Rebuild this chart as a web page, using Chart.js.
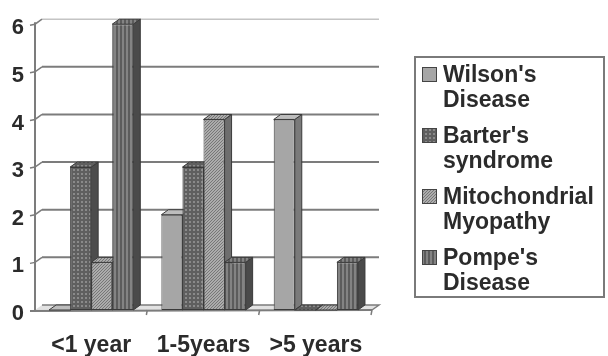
<!DOCTYPE html>
<html>
<head>
<meta charset="utf-8">
<script src="https://cdn.jsdelivr.net/npm/chart.js@4.4.1/dist/chart.umd.min.js"></script>
<style>
  html, body { margin: 0; padding: 0; background: #ffffff; }
  #wrap { width: 608px; height: 356px; }
</style>
</head>
<body>
<div id="wrap"><canvas id="c" width="608" height="356"></canvas></div>
<script>
// Age groups and number of patients per diagnosis
const categories = ['<1 year', '1-5years', '>5 years'];
const wilson = [0, 2, 4];
const barter = [3, 3, 0];
const mito = [1, 4, 0];
const pompe = [6, 1, 1];
const seriesNames = [
  ["Wilson's", 'Disease'],
  ["Barter's", 'syndrome'],
  ['Mitochondrial', 'Myopathy'],
  ["Pompe's", 'Disease']
];
const yMin = 0, yMax = 6, yStep = 1;

const FONT = "'Liberation Sans', Arial, Helvetica, sans-serif";
const TEXT = '#2b2b2b';
const DX = 7, DY = -5;   // depth offset for the pseudo-3D look

const canvas = document.getElementById('c');
const ctx = canvas.getContext('2d');

function makePattern(w, h, paint) {
  const t = document.createElement('canvas');
  t.width = w; t.height = h;
  paint(t.getContext('2d'));
  return ctx.createPattern(t, 'repeat');
}

// solid, dotted grid, diagonal hatch, vertical stripes
const fronts = [
  '#a6a6a6',
  makePattern(4, 4, g => {
    g.fillStyle = '#5f5f5f'; g.fillRect(0, 0, 4, 4);
    g.fillStyle = '#8a8a8a'; g.fillRect(1, 1, 2, 2);
  }),
  makePattern(3, 3, g => {
    g.fillStyle = '#acacac'; g.fillRect(0, 0, 3, 3);
    g.fillStyle = '#777777';
    g.fillRect(0, 2, 1, 1); g.fillRect(1, 1, 1, 1); g.fillRect(2, 0, 1, 1);
  }),
  makePattern(4, 1, g => {
    g.fillStyle = '#5c5c5c'; g.fillRect(0, 0, 2, 1);
    g.fillStyle = '#838383'; g.fillRect(2, 0, 2, 1);
  })
];
const sides = ['#7a7a7a', '#4c4c4c', '#6e6e6e', '#4a4a4a'];
const tops = ['#bdbdbd', fronts[1], fronts[2], fronts[3]];

// back wall, floor and the top/side faces of each bar
const depthPlugin = {
  id: 'depth',
  beforeDatasetsDraw(chart) {
    const c = chart.ctx;
    const { left, right, bottom } = chart.chartArea;
    const ys = chart.scales.y;
    c.save();

    // gridlines on the back wall with slanted ticks on the axis
    for (let v = yMin + yStep; v <= yMax; v += yStep) {
      const py = ys.getPixelForValue(v);
      c.strokeStyle = v === yMax ? '#c4c4c4' : '#7c7c7c';
      c.lineWidth = v === yMax ? 1.5 : 2;
      c.beginPath();
      c.moveTo(left + DX, py + DY);
      c.lineTo(right + DX, py + DY);
      c.stroke();
      c.strokeStyle = '#7c7c7c';
      c.lineWidth = 1.5;
      c.beginPath();
      c.moveTo(left - 5, py + 1);
      c.lineTo(left, py);
      c.lineTo(left + DX, py + DY);
      c.stroke();
    }

    // floor
    c.fillStyle = '#e2e2e2';
    c.beginPath();
    c.moveTo(left, bottom);
    c.lineTo(right, bottom);
    c.lineTo(right + DX, bottom + DY);
    c.lineTo(left + DX, bottom + DY);
    c.closePath();
    c.fill();
    c.strokeStyle = '#7c7c7c';
    c.lineWidth = 1.5;
    c.beginPath();
    c.moveTo(left + DX, bottom + DY);
    c.lineTo(right + DX, bottom + DY);
    c.lineTo(right, bottom);
    c.stroke();
    c.lineWidth = 2;
    c.beginPath();
    c.moveTo(left - 5, bottom + 1);
    c.lineTo(right, bottom);
    c.stroke();

    // category separators below the floor
    const n = categories.length;
    const step = (right - left) / n;
    c.lineWidth = 1.5;
    for (let i = 1; i <= n; i++) {
      const px = left + step * i;
      c.beginPath();
      c.moveTo(px, bottom);
      c.lineTo(px - 1, bottom + 5);
      c.stroke();
    }

    // y axis line
    c.lineWidth = 2;
    c.beginPath();
    c.moveTo(left, ys.getPixelForValue(yMax) - 2);
    c.lineTo(left, bottom + 2);
    c.stroke();

    // side and top faces
    c.strokeStyle = '#3a3a3a';
    c.lineWidth = 1;
    chart.data.datasets.forEach((ds, i) => {
      const meta = chart.getDatasetMeta(i);
      meta.data.forEach(bar => {
        const { x, y, base, width } = bar.getProps(['x', 'y', 'base', 'width'], true);
        const l = x - width / 2, r = x + width / 2;
        c.fillStyle = sides[i];
        c.beginPath();
        c.moveTo(r, y);
        c.lineTo(r + DX, y + DY);
        c.lineTo(r + DX, base + DY);
        c.lineTo(r, base);
        c.closePath();
        c.fill(); c.stroke();
        c.fillStyle = tops[i];
        c.beginPath();
        c.moveTo(l, y);
        c.lineTo(l + DX, y + DY);
        c.lineTo(r + DX, y + DY);
        c.lineTo(r, y);
        c.closePath();
        c.fill(); c.stroke();
      });
    });
    c.restore();
  }
};

// boxed legend with two-line entries
const legendPlugin = {
  id: 'boxLegend',
  afterDraw(chart) {
    const c = chart.ctx;
    c.save();
    c.strokeStyle = '#7a7a7a';
    c.lineWidth = 2;
    c.strokeRect(415, 57, 189, 240);
    c.font = 'bold 23px ' + FONT;
    c.textBaseline = 'middle';
    c.textAlign = 'left';
    chart.data.datasets.forEach((ds, i) => {
      const yc = 75 + i * 61;
      c.fillStyle = fronts[i];
      c.fillRect(422, yc - 8, 15, 15);
      c.strokeStyle = '#444444';
      c.lineWidth = 1;
      c.strokeRect(422.5, yc - 7.5, 14, 14);
      c.fillStyle = TEXT;
      seriesNames[i].forEach((line, k) => c.fillText(line, 443, yc + 1 + k * 25));
    });
    c.restore();
  }
};

const seriesValues = [wilson, barter, mito, pompe];
const datasets = seriesValues.map((vals, i) => ({
  label: seriesNames[i].join(' '),
  data: vals,
  backgroundColor: fronts[i],
  borderColor: '#3a3a3a',
  borderWidth: 1,
  borderSkipped: false,
  categoryPercentage: 0.75,
  barPercentage: 1.0
}));

new Chart(ctx, {
  type: 'bar',
  data: { labels: categories, datasets },
  options: {
    responsive: false,
    animation: false,
    devicePixelRatio: 1,
    layout: { padding: { top: 18, right: 236, bottom: 0, left: 0 } },
    plugins: { legend: { display: false }, tooltip: { enabled: false } },
    scales: {
      x: {
        grid: { display: false, drawTicks: false },
        border: { display: false },
        ticks: { color: TEXT, font: { family: FONT, size: 23, weight: 'bold' }, padding: 22, maxRotation: 0 },
        afterFit(s) { s.height = 46; }
      },
      y: {
        min: yMin, max: yMax,
        grid: { display: false, drawTicks: false },
        border: { display: false },
        ticks: { stepSize: yStep, color: TEXT, font: { family: FONT, size: 22, weight: 'bold' }, padding: 11, labelOffset: 4 },
        afterFit(s) { s.width = 35; }
      }
    }
  },
  plugins: [depthPlugin, legendPlugin]
});
</script>
</body>
</html>
